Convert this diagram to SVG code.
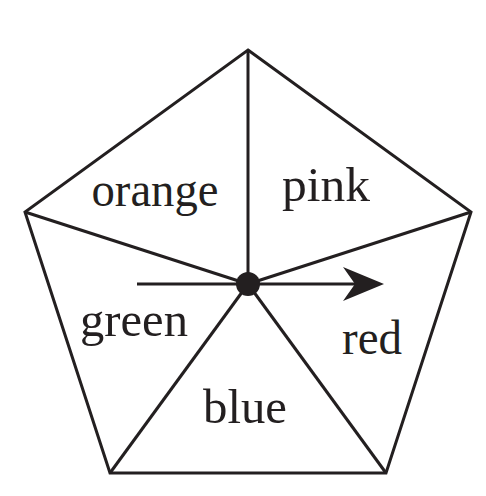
<svg xmlns="http://www.w3.org/2000/svg" width="486" height="496" viewBox="0 0 486 496">
<style>
.l{stroke:#231f20;stroke-width:3;fill:none;stroke-linejoin:miter}
.t{font-family:"Liberation Serif",serif;font-size:49px;fill:#231f20;text-anchor:middle}
</style>
<rect width="486" height="496" fill="#fff"/>
<g id="spinner">
<polygon class="l" points="248,50 471,212 386,473 110,473 25,212"/>
</g>
<g id="connectors">
<line class="l" x1="248" y1="284" x2="248" y2="50"/>
<line class="l" x1="248" y1="284" x2="471" y2="212"/>
<line class="l" x1="248" y1="284" x2="386" y2="473"/>
<line class="l" x1="248" y1="284" x2="110" y2="473"/>
<line class="l" x1="248" y1="284" x2="25" y2="212"/>
<line class="l" x1="137" y1="284" x2="360" y2="284"/>
<polygon points="384,284 343,267 355,284 343,301" fill="#231f20"/>
<circle cx="248" cy="284" r="12" fill="#231f20"/>
</g>
<g id="labels">
<text class="t" x="155" y="206" textLength="127" lengthAdjust="spacingAndGlyphs">orange</text>
<text class="t" x="326" y="201" textLength="88" lengthAdjust="spacingAndGlyphs">pink</text>
<text class="t" x="134" y="336" textLength="108" lengthAdjust="spacingAndGlyphs">green</text>
<text class="t" x="372" y="354" textLength="60" lengthAdjust="spacingAndGlyphs">red</text>
<text class="t" x="245" y="423" textLength="84" lengthAdjust="spacingAndGlyphs">blue</text>
</g>
</svg>
